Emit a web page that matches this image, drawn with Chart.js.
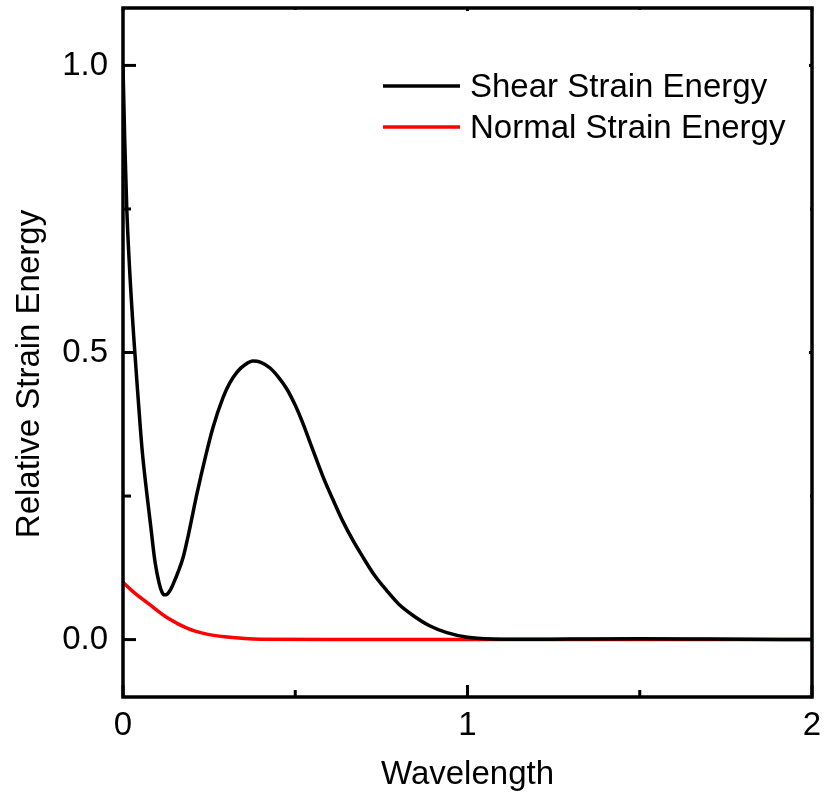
<!DOCTYPE html>
<html>
<head>
<meta charset="utf-8">
<script src="https://cdn.jsdelivr.net/npm/chart.js@4/dist/chart.umd.min.js"></script>
<style>
  html, body { margin: 0; padding: 0; background: #ffffff; }
  #wrap { width: 828px; height: 801px; }
</style>
</head>
<body>
<div id="wrap"><canvas id="c" width="828" height="801"></canvas></div>
<script>
// ---- data ----
const seriesLabels = ['Shear Strain Energy', 'Normal Strain Energy'];
const seriesColors = ['#000000', '#ff0000'];

const shearX = [0, 0.005, 0.011, 0.02, 0.032, 0.044, 0.055, 0.07, 0.08, 0.093, 0.105, 0.113, 0.12, 0.128, 0.138, 0.148, 0.16, 0.174, 0.19, 0.215, 0.24, 0.261, 0.29, 0.31, 0.331, 0.355, 0.377, 0.40, 0.427, 0.45, 0.476, 0.50, 0.52, 0.55, 0.581, 0.61, 0.639, 0.67, 0.697, 0.73, 0.766, 0.80, 0.842, 0.89, 0.94, 1.0, 1.07, 1.15, 1.3, 1.5, 1.7, 2.0];
const shearY = [1.0, 0.87, 0.75, 0.636, 0.52, 0.42, 0.334, 0.25, 0.2, 0.135, 0.098, 0.083, 0.078, 0.079, 0.087, 0.1, 0.118, 0.142, 0.183, 0.255, 0.32, 0.369, 0.421, 0.447, 0.466, 0.479, 0.485, 0.483, 0.473, 0.458, 0.436, 0.408, 0.38, 0.332, 0.283, 0.243, 0.205, 0.17, 0.143, 0.112, 0.085, 0.062, 0.042, 0.024, 0.012, 0.004, 0.001, 0.0005, 0.001, 0.0015, 0.001, 0.0];

const normalX = [0, 0.03, 0.073, 0.131, 0.189, 0.24, 0.296, 0.4, 0.6, 1.0, 1.5, 2.0];
const normalY = [0.1, 0.083, 0.063, 0.037, 0.019, 0.01, 0.005, 0.0005, 0.0, 0.0, 0.0, 0.0];

const xTicks = [0, 1, 2];
const xMinorTicks = [0.5, 1.5];
const yTicks = [0, 0.5, 1.0];
const yMinorTicks = [0.25, 0.75];
const xTitle = 'Wavelength';
const yTitle = 'Relative Strain Energy';

const FONT = "'Liberation Sans', Arial, Helvetica, sans-serif";
const FS = 33;

function pts(xs, ys) { return xs.map((x, i) => ({ x: x, y: ys[i] })); }

const framePlugin = {
  id: 'frame',
  afterDatasetsDraw(chart) {
    const ctx = chart.ctx;
    const a = chart.chartArea;
    const xs = chart.scales.x, ys = chart.scales.y;
    ctx.save();
    ctx.strokeStyle = '#000';
    ctx.lineWidth = 3.5;
    ctx.lineCap = 'square';
    ctx.strokeRect(a.left, a.top, a.right - a.left, a.bottom - a.top);
    ctx.lineCap = 'butt';
    ctx.lineWidth = 3;
    xTicks.forEach(v => {
      const p = xs.getPixelForValue(v);
      ctx.beginPath(); ctx.moveTo(p, a.bottom); ctx.lineTo(p, a.bottom - 12); ctx.stroke();
      ctx.beginPath(); ctx.moveTo(p, a.top); ctx.lineTo(p, a.top + 3); ctx.stroke();
    });
    xMinorTicks.forEach(v => {
      const p = xs.getPixelForValue(v);
      ctx.beginPath(); ctx.moveTo(p, a.bottom); ctx.lineTo(p, a.bottom - 7); ctx.stroke();
      ctx.beginPath(); ctx.moveTo(p, a.top); ctx.lineTo(p, a.top + 2); ctx.stroke();
    });
    yTicks.forEach(v => {
      const p = ys.getPixelForValue(v);
      ctx.beginPath(); ctx.moveTo(a.left, p); ctx.lineTo(a.left + 13, p); ctx.stroke();
      ctx.beginPath(); ctx.moveTo(a.right, p); ctx.lineTo(a.right - 3, p); ctx.stroke();
    });
    yMinorTicks.forEach(v => {
      const p = ys.getPixelForValue(v);
      ctx.beginPath(); ctx.moveTo(a.left, p); ctx.lineTo(a.left + 8, p); ctx.stroke();
      ctx.beginPath(); ctx.moveTo(a.right, p); ctx.lineTo(a.right - 2, p); ctx.stroke();
    });
    // y axis title
    ctx.fillStyle = '#000';
    ctx.font = FS + 'px ' + FONT;
    ctx.textAlign = 'center';
    ctx.textBaseline = 'middle';
    ctx.translate(30, 374);
    ctx.rotate(-Math.PI / 2);
    ctx.fillText(yTitle, 0, 0);
    ctx.restore();

    // legend
    ctx.save();
    ctx.font = FS + 'px ' + FONT;
    ctx.textAlign = 'left';
    ctx.textBaseline = 'alphabetic';
    const rows = [97, 138];
    chart.data.datasets.forEach((ds, i) => {
      const base = rows[i];
      const ly = base - 11;
      ctx.strokeStyle = ds.borderColor;
      ctx.lineWidth = 3.5;
      ctx.beginPath(); ctx.moveTo(383, ly); ctx.lineTo(460, ly); ctx.stroke();
      ctx.fillStyle = '#000';
      ctx.fillText(ds.label, 470, base);
    });
    ctx.restore();
  }
};

new Chart(document.getElementById('c'), {
  type: 'line',
  data: {
    datasets: [
      { label: seriesLabels[0], data: pts(shearX, shearY), borderColor: seriesColors[0], borderWidth: 3.5,
        pointRadius: 0, fill: false, cubicInterpolationMode: 'monotone' },
      { label: seriesLabels[1], data: pts(normalX, normalY), borderColor: seriesColors[1], borderWidth: 3.5,
        pointRadius: 0, fill: false, cubicInterpolationMode: 'monotone' }
    ]
  },
  options: {
    responsive: false,
    animation: false,
    devicePixelRatio: 1,
    layout: { padding: { top: 8, right: 16, left: 0, bottom: 0 } },
    plugins: { legend: { display: false }, tooltip: { enabled: false } },
    scales: {
      x: {
        type: 'linear', min: 0, max: 2,
        grid: { display: false, drawTicks: false },
        border: { display: false },
        afterBuildTicks: s => { s.ticks = xTicks.map(v => ({ value: v })); },
        afterFit: s => { s.height = 104; s.paddingLeft = 0; s.paddingRight = 0; },
        ticks: { color: '#000', padding: 9, maxRotation: 0, autoSkip: false,
          font: { family: FONT, size: FS }, callback: v => String(v) },
        title: { display: true, text: xTitle, color: '#000',
          font: { family: FONT, size: FS }, padding: { top: 0, bottom: 6 } }
      },
      y: {
        type: 'linear', min: -0.1, max: 1.1,
        grid: { display: false, drawTicks: false },
        border: { display: false },
        afterBuildTicks: s => { s.ticks = yTicks.map(v => ({ value: v })); },
        afterFit: s => { s.width = 123; s.paddingTop = 0; s.paddingBottom = 0; },
        ticks: { color: '#000', padding: 15, autoSkip: false,
          font: { family: FONT, size: FS }, callback: v => Number(v).toFixed(1) }
      }
    }
  },
  plugins: [framePlugin]
});
</script>
</body>
</html>
